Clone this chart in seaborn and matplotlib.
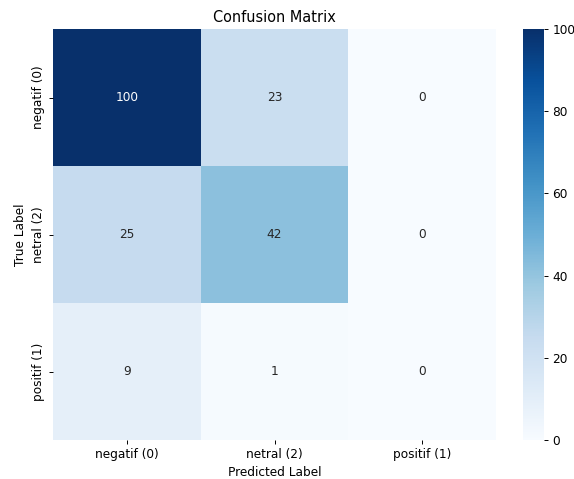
import numpy as np
import matplotlib
matplotlib.use("Agg")
import matplotlib.pyplot as plt
import seaborn as sns

# Class names in the order used by the confusion matrix
class_labels = ["negatif (0)", "netral (2)", "positif (1)"]

# Rows: true label, columns: predicted label
row_negatif = [100, 23, 0]
row_netral = [25, 42, 0]
row_positif = [9, 1, 0]

cm = np.array([row_negatif, row_netral, row_positif])

W, H = 574, 479
DPI = 87
fig = plt.figure(figsize=(W / DPI, H / DPI), dpi=DPI)
ax = fig.add_axes([53 / W, 1 - 440 / H, (496 - 53) / W, (440 - 29) / H])
cax = fig.add_axes([523 / W, 1 - 440 / H, (544 - 523) / W, (440 - 29) / H])

sns.heatmap(
    cm,
    annot=True,
    fmt="d",
    cmap="Blues",
    xticklabels=class_labels,
    yticklabels=class_labels,
    ax=ax,
    cbar_ax=cax,
)
ax.set_title("Confusion Matrix")
ax.set_xlabel("Predicted Label")
ax.set_ylabel("True Label")

fig.savefig("out.png", dpi=DPI)
